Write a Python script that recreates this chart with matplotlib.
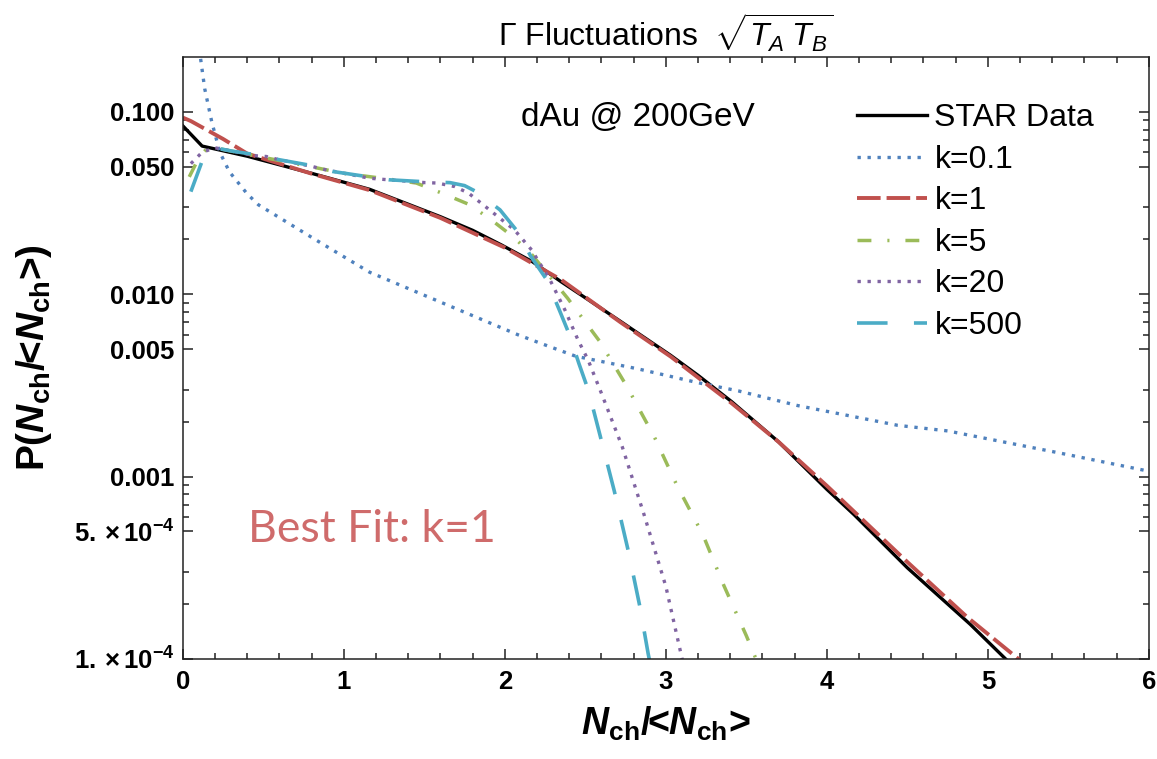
import numpy as np
import matplotlib.pyplot as plt
from matplotlib.ticker import FixedLocator, NullFormatter

plt.rcParams['font.family'] = 'Liberation Sans'
plt.rcParams['mathtext.fontset'] = 'custom'
plt.rcParams['mathtext.rm'] = 'Liberation Sans'
plt.rcParams['mathtext.it'] = 'Liberation Sans:italic'
plt.rcParams['mathtext.bf'] = 'Liberation Sans:bold'
plt.rcParams['mathtext.bfit'] = 'Liberation Sans:italic:bold'
plt.rcParams['lines.scale_dashes'] = False

# STAR data
star_x = [0.0, 0.12, 0.40, 0.80, 1.16, 1.41, 1.60, 1.80, 1.98, 2.17, 2.35, 2.52,
          2.72, 3.03, 3.20, 3.41, 3.70, 4.00, 4.17, 4.50, 4.89, 5.11, 5.20]
star_p = [0.0838, 0.0649, 0.0571, 0.0460, 0.0376, 0.0309, 0.0266, 0.0224, 0.0186,
          0.0151, 0.0117, 0.0093, 0.00708, 0.00462, 0.00359, 0.00257, 0.00155,
          0.000851, 0.000617, 0.000316, 0.000155, 0.000100, 0.0000832]

# k = 0.1
k01_x = [0.08, 0.095, 0.109, 0.136, 0.18, 0.23, 0.29, 0.40, 0.47, 0.60, 0.82, 1.16,
         1.62, 2.08, 2.21, 2.44, 2.83, 3.20, 3.45, 3.82, 4.44, 4.75, 5.44, 6.0]
k01_p = [0.6, 0.3, 0.2, 0.134, 0.088, 0.060, 0.0468, 0.0355, 0.0309, 0.0263, 0.0200,
         0.0132, 0.0089, 0.0060, 0.00543, 0.00457, 0.00389, 0.00327, 0.00295,
         0.00245, 0.00191, 0.00178, 0.00135, 0.00107]

# k = 1
k1_x = [0.0, 0.05, 0.25, 0.40, 0.80, 1.16, 1.60, 2.00, 2.35, 2.72, 3.03, 3.41, 3.70,
        4.00, 4.50, 4.87, 5.19, 5.25]
k1_p = [0.093, 0.089, 0.071, 0.059, 0.0458, 0.0372, 0.0262, 0.0180, 0.0120, 0.0070,
        0.00455, 0.00252, 0.00155, 0.00089, 0.00034, 0.00017, 0.000100, 0.000088]

# k = 5
k5_x = [0.04, 0.10, 0.15, 0.20, 0.40, 0.70, 1.00, 1.30, 1.45, 1.62, 1.78, 1.92, 2.05,
        2.16, 2.39, 2.59, 2.76, 2.93, 3.07, 3.23, 3.36, 3.50, 3.56]
k5_p = [0.044, 0.056, 0.063, 0.0635, 0.0585, 0.052, 0.046, 0.0425, 0.0407, 0.0355,
        0.031, 0.0254, 0.0207, 0.0168, 0.0095, 0.0055, 0.0031, 0.00164, 0.00089,
        0.00048, 0.000253, 0.000134, 0.000100]

# k = 20
k20_x = [0.05, 0.12, 0.20, 0.456, 0.518, 0.58, 0.806, 0.868, 1.156, 1.218, 1.507,
         1.58, 1.69, 1.775, 1.878, 2.06, 2.166, 2.28, 2.373, 2.455, 2.517, 2.60,
         2.73, 2.865, 3.00, 3.10, 3.12]
k20_p = [0.052, 0.060, 0.0635, 0.0574, 0.0569, 0.0551, 0.0501, 0.0485, 0.0433, 0.0428,
         0.0409, 0.0407, 0.0389, 0.0358, 0.0303, 0.0225, 0.0175, 0.0120, 0.0082,
         0.0056, 0.00436, 0.00286, 0.00145, 0.000617, 0.00025, 0.000101, 0.000085]

# k = 500
k500_x = [0.05, 0.12, 0.20, 0.30, 0.45, 0.60, 0.77, 0.93, 1.11, 1.28, 1.47, 1.66, 1.75,
          1.82, 1.97, 2.08, 2.16, 2.26, 2.34, 2.40, 2.46, 2.52, 2.59, 2.68, 2.77,
          2.84, 2.89, 2.92]
k500_p = [0.0365, 0.0537, 0.0635, 0.0610, 0.0582, 0.0546, 0.0513, 0.0471, 0.0446,
          0.0424, 0.0415, 0.0409, 0.0394, 0.0366, 0.0290, 0.0220, 0.0162, 0.0120,
          0.00813, 0.00603, 0.00417, 0.00295, 0.00170, 0.000832, 0.000380, 0.000191,
          0.000107, 0.0000794]

ytick_vals = [1e-4, 5e-4, 1e-3, 5e-3, 1e-2, 5e-2, 1e-1]
ytick_labels = [r'$\mathbf{1.\times10^{-4}}$', r'$\mathbf{5.\times10^{-4}}$',
                '0.001', '0.005', '0.010', '0.050', '0.100']
xtick_vals = [0, 1, 2, 3, 4, 5, 6]

fig = plt.figure(figsize=(11.57, 7.59), dpi=100)
ax = fig.add_axes([0.158, 0.1318, 0.835, 0.7932])

ax.plot(star_x, star_p, color='black', lw=2.4, label='STAR Data')
ax.plot(k01_x, k01_p, color='#4F81BD', lw=2.4, dash_capstyle='butt',
        linestyle=(0, (2.4, 4.8)), label='k=0.1')
ax.plot(k1_x, k1_p, color='#C0504D', lw=2.8, linestyle=(0, (17, 4.3)), label='k=1')
ax.plot(k5_x, k5_p, color='#9BBB59', lw=2.5,
        linestyle=(0, (10, 11.5, 1.5, 11.5)), label='k=5')
ax.plot(k20_x, k20_p, color='#8064A2', lw=2.4, dash_capstyle='butt',
        linestyle=(0, (2.4, 4.8)), label='k=20')
ax.plot(k500_x, k500_p, color='#4BACC6', lw=2.6, linestyle=(0, (22, 19)), label='k=500')

ax.set_yscale('log')
ax.set_xlim(0, 6)
ax.set_ylim(1e-4, 0.2)

ax.set_yticks(ytick_vals, labels=ytick_labels)
ax.yaxis.set_minor_locator(FixedLocator(
    [m * 10.0 ** e for e in (-4, -3, -2, -1) for m in (2, 3, 6, 7, 8, 9) if m * 10.0 ** e < 0.2]))
ax.yaxis.set_minor_formatter(NullFormatter())
ax.set_xticks(xtick_vals)
ax.xaxis.set_minor_locator(FixedLocator(np.arange(0, 6.01, 0.2)))

ax.tick_params(which='both', direction='in', top=True, right=True, width=1.1,
               color='#222222', labelsize=18.5)
ax.tick_params(which='major', length=7)
ax.tick_params(which='minor', length=4)
ax.tick_params(axis='x', pad=8)
ax.tick_params(axis='y', pad=6)
for lab in ax.get_xticklabels() + ax.get_yticklabels():
    lab.set_fontweight('bold')
for sp in ax.spines.values():
    sp.set_linewidth(1.1)
    sp.set_color('#222222')

ax.set_xlabel(r'$\mathbfit{N}_\mathbf{ch}$/<$\mathbfit{N}_\mathbf{ch}$>',
              fontsize=27, fontweight='bold', labelpad=8)
ax.set_ylabel(r'P($\mathbfit{N}_\mathbf{ch}$/<$\mathbfit{N}_\mathbf{ch}$>)',
              fontsize=28, fontweight='bold', labelpad=14)
ax.set_title(r'$\Gamma$ Fluctuations  $\sqrt{T_A\;T_B}$', fontsize=23, pad=7)

ax.text(0.3505, 0.900, 'dAu @ 200GeV', transform=ax.transAxes, fontsize=24,
        ha='left', va='center')
ax.text(0.067, 0.195, 'Best Fit: k=1', transform=ax.transAxes, fontsize=32,
        family='Lato', color='#CF6B6B', ha='left', va='baseline')

ax.legend(loc='upper left', bbox_to_anchor=(0.698, 0.923), frameon=False,
          fontsize=23, handlelength=2.2, handletextpad=0.22, labelspacing=0.36,
          borderpad=0, borderaxespad=0)

fig.savefig('out.png', dpi=100)
